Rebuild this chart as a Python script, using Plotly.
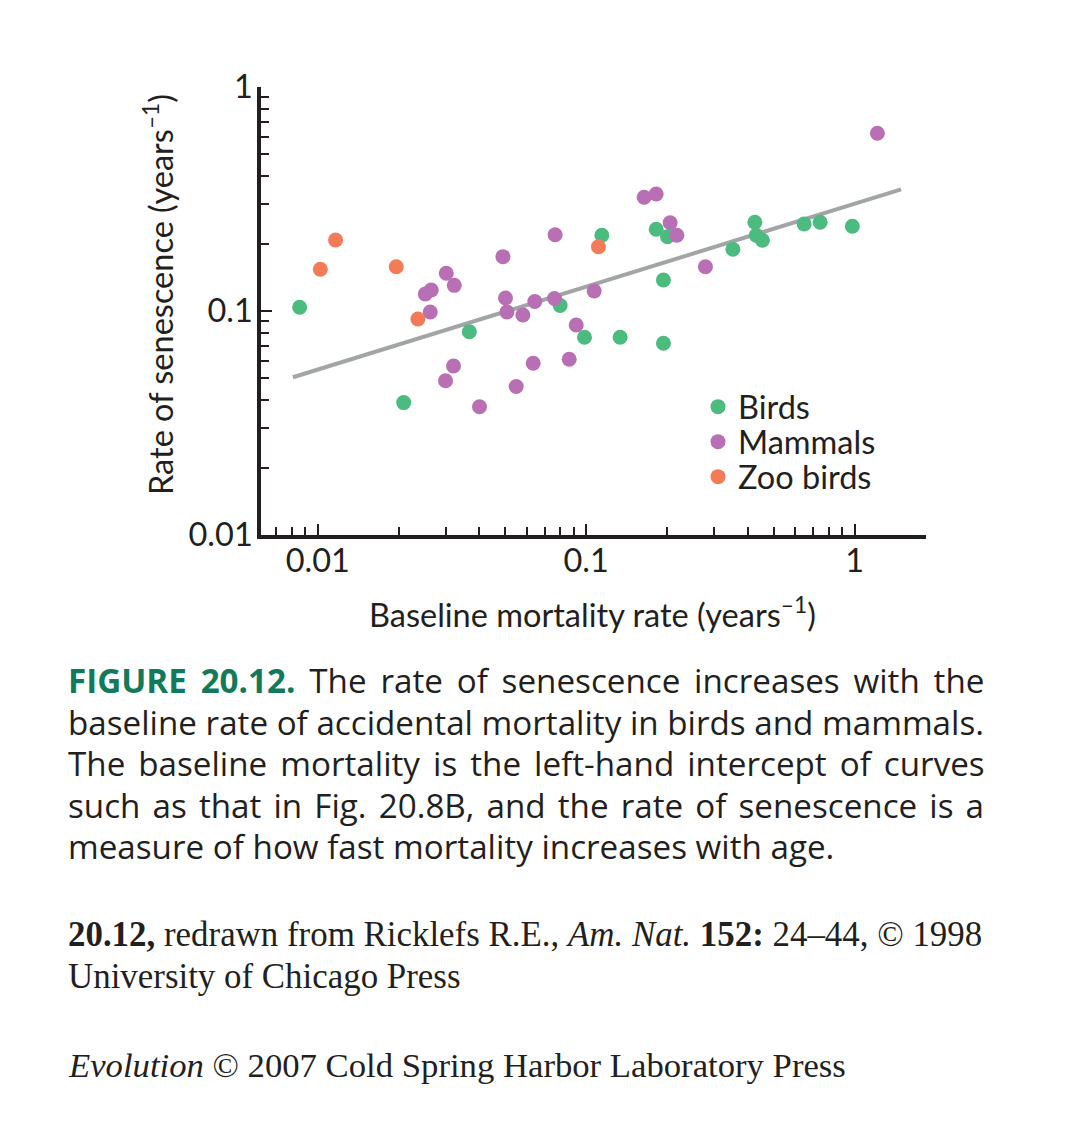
import plotly.graph_objects as go

# ---------------- data ----------------
birds_x = [0.00856, 0.0367, 0.0209, 0.0800, 0.0986, 0.1338, 0.194, 0.1144, 0.1823,
           0.2009, 0.194, 0.352, 0.425, 0.430, 0.4535, 0.6485, 0.744, 0.981]
birds_y = [0.1039, 0.0808, 0.0390, 0.1058, 0.0763, 0.0763, 0.0718, 0.2178, 0.2316,
           0.2146, 0.1375, 0.1886, 0.2489, 0.2178, 0.2068, 0.2446, 0.2489, 0.2388]

mammals_x = [1.216, 0.1644, 0.1823, 0.0766, 0.2055, 0.2177, 0.2781, 0.1071, 0.04896,
             0.03011, 0.03225, 0.02515, 0.02647, 0.02624, 0.05005, 0.05067, 0.05809,
             0.06436, 0.07617, 0.0918, 0.06347, 0.08644, 0.05486, 0.04005, 0.03205, 0.02992]
mammals_y = [0.6215, 0.3218, 0.333, 0.2191, 0.2479, 0.2178, 0.1577, 0.1228, 0.1748,
             0.1474, 0.1302, 0.1191, 0.1241, 0.099, 0.1143, 0.099, 0.096,
             0.1103, 0.1137, 0.0866, 0.0584, 0.0609, 0.046, 0.0374, 0.0568, 0.0488]

zoo_x = [0.01022, 0.01165, 0.01961, 0.0236, 0.1111]
zoo_y = [0.1535, 0.2075, 0.1577, 0.0921, 0.1937]

fit_x = [0.00808, 1.49]
fit_y = [0.0506, 0.3494]

x_major = [0.01, 0.1, 1]
x_major_text = ["0.01", "0.1", "1"]
x_minor = [0.007, 0.008, 0.009, 0.02, 0.03, 0.04, 0.05, 0.06, 0.07, 0.08, 0.09,
           0.2, 0.3, 0.4, 0.5, 0.6, 0.7, 0.8, 0.9]
y_major = [0.01, 0.1, 1]
y_major_text = ["0.01", "0.1", "1"]
y_minor = [0.02, 0.03, 0.04, 0.05, 0.06, 0.07, 0.08, 0.09,
           0.2, 0.3, 0.4, 0.5, 0.6, 0.7, 0.8, 0.9]

series_names = ["Birds", "Mammals", "Zoo birds"]

caption_lines = [
    "<b><span style='color:#13795b'>FIGURE 20.12.</span></b> The rate of senescence increases with the",
    "baseline rate of accidental mortality in birds and mammals.",
    "The baseline mortality is the left-hand intercept of curves",
    "such as that in Fig. 20.8B, and the rate of senescence is a",
    "measure of how fast mortality increases with age.",
]
caption_wordspacing = [5.2, 0.0, 4.4, 3.5, 0]
source_lines = [
    "<b>20.12,</b> redrawn from Ricklefs R.E., <i>Am. Nat.</i> <b>152:</b> 24–44, © 1998",
    "University of Chicago Press",
]
credit_line = "<i>Evolution</i> © 2007 Cold Spring Harbor Laboratory Press"

# ---------------- styling ----------------
W, H = 1074, 1146
PL, PR, PT, PB = 261, 926, 87, 535
GREEN, PURPLE, ORANGE, GREY, INK = "#4cbb7f", "#b96fb4", "#f37b58", "#a2a5a5", "#231f20"
AXFONT = "Lato"
AXSIZE = 32.5


def px(x):
    return (x - PL) / (PR - PL)


def py(y):
    return (PB - y) / (PB - PT)


fig = go.Figure()
fig.add_trace(go.Scatter(x=fit_x, y=fit_y, mode="lines", line=dict(color=GREY, width=4),
                         showlegend=False, hoverinfo="skip"))
legend_ids = ["legend", "legend2", "legend3"]
for name, xs, ys, col, lg in [(series_names[0], birds_x, birds_y, GREEN, legend_ids[0]),
                              (series_names[1], mammals_x, mammals_y, PURPLE, legend_ids[1]),
                              (series_names[2], zoo_x, zoo_y, ORANGE, legend_ids[2])]:
    fig.add_trace(go.Scatter(x=xs, y=ys, mode="markers", name=name, legend=lg,
                             marker=dict(color=col, size=15, line=dict(width=0))))

axis_common = dict(type="log", showgrid=False, zeroline=False, showline=True,
                   linecolor=INK, linewidth=3.5, ticks="inside", ticklen=11,
                   tickwidth=1.5, tickcolor=INK, tickmode="array",
                   tickfont=dict(family=AXFONT, size=AXSIZE, color=INK))
fig.update_xaxes(**axis_common, range=[-2.2115, 0.266], tickvals=x_major,
                 ticktext=x_major_text, ticklabelstandoff=-6,
                 minor=dict(tickmode="array", tickvals=x_minor, ticks="inside",
                            ticklen=8, tickwidth=1.5, tickcolor=INK))
fig.update_yaxes(**axis_common, range=[-2, 0], tickvals=y_major,
                 ticktext=y_major_text, ticklabelstandoff=-2,
                 minor=dict(tickmode="array", tickvals=y_minor, ticks="inside",
                            ticklen=8, tickwidth=1.5, tickcolor=INK))

ann = []
ann.append(dict(text="Baseline mortality rate (years<sup>–1</sup>)", x=px(592), y=py(612),
                xref="paper", yref="paper", showarrow=False, xanchor="center", yanchor="middle",
                font=dict(family=AXFONT, size=AXSIZE, color=INK)))
ann.append(dict(text="Rate of senescence (years<sup>–1</sup>)", x=px(158), y=py(295),
                xref="paper", yref="paper", showarrow=False, xanchor="center", yanchor="middle",
                textangle=-90, font=dict(family=AXFONT, size=AXSIZE, color=INK)))
cap_y = [680, 722, 763, 805, 846]
for t, yy, ws in zip(caption_lines, cap_y, caption_wordspacing):
    ann.append(dict(text="<span style='word-spacing:%.1fpx'>%s</span>" % (ws, t),
                    x=px(66), y=py(yy), xref="paper", yref="paper", showarrow=False,
                    xanchor="left", yanchor="middle", align="left",
                    font=dict(family="Open Sans", size=33.2, color=INK)))
for t, yy in zip(source_lines, [934, 976]):
    ann.append(dict(text=t, x=px(66), y=py(yy), xref="paper", yref="paper", showarrow=False,
                    xanchor="left", yanchor="middle", align="left",
                    font=dict(family="Liberation Serif", size=34.9, color=INK)))
ann.append(dict(text=credit_line, x=px(66), y=py(1065), xref="paper", yref="paper",
                showarrow=False, xanchor="left", yanchor="middle", align="left",
                font=dict(family="Liberation Serif", size=34.7, color=INK)))

leg_common = dict(xanchor="left", yanchor="middle", bgcolor="rgba(0,0,0,0)",
                  font=dict(family=AXFONT, size=AXSIZE, color=INK))
fig.update_layout(
    width=W, height=H, margin=dict(l=PL, r=W - PR, t=PT, b=H - PB, pad=0),
    paper_bgcolor="white", plot_bgcolor="white",
    showlegend=True,
    legend=dict(x=px(698), y=py(407), **leg_common),
    legend2=dict(x=px(698), y=py(442), **leg_common),
    legend3=dict(x=px(698), y=py(477), **leg_common),
    annotations=ann,
)

fig.write_html("out.html", config={"displayModeBar": False},
               post_script="document.body.style.margin='0px';document.body.style.overflow='hidden';")
